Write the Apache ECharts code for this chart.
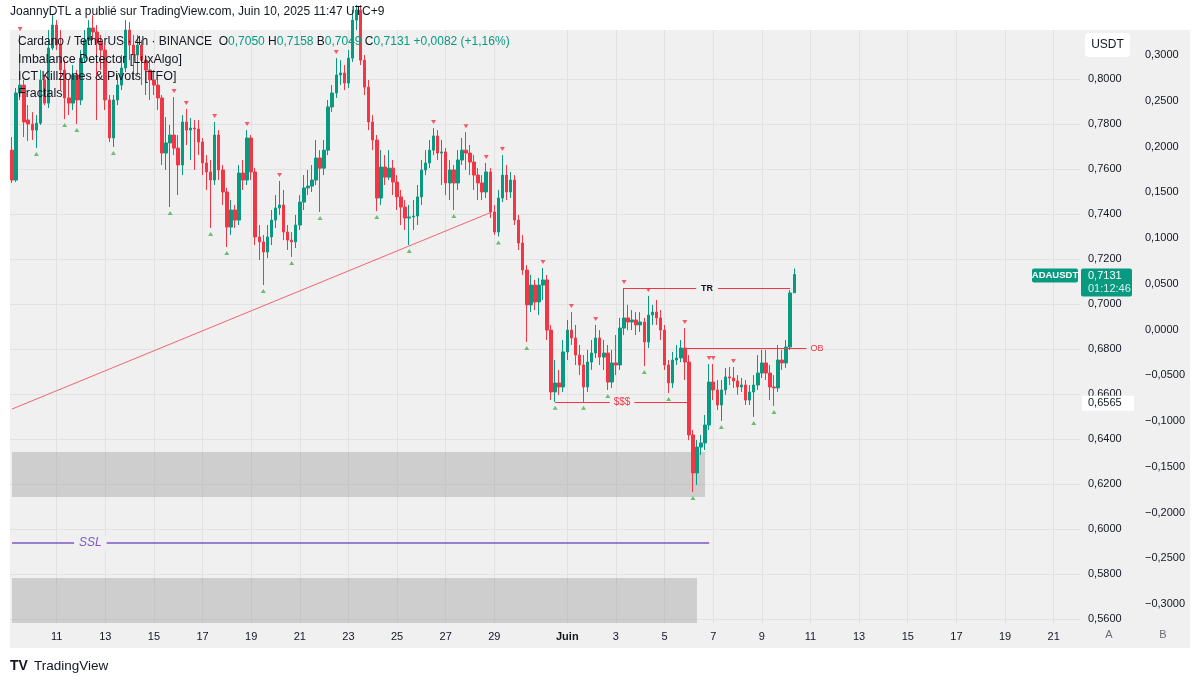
<!DOCTYPE html>
<html>
<head>
<meta charset="utf-8">
<title>ADAUSDT 4h</title>
<script src="https://cdn.jsdelivr.net/npm/echarts@6/dist/echarts.min.js"></script>
<style>
  html, body { margin: 0; padding: 0; background: #fff; }
  #main { width: 1200px; height: 684px; }
</style>
</head>
<body>
<div id="main"></div>
<script>
// 4h candles, [open, close, low, high], first bar = 9 May 05:00 (UTC+9)
var candles = [
  [0.7684,0.7551,0.7538,0.7742],[0.7551,0.7938,0.7542,0.7960],[0.7938,0.7973,0.7907,0.8196],[0.7973,0.7809,0.7742,0.7996],
  [0.7818,0.7800,0.7724,0.7884],[0.7800,0.7773,0.7729,0.7853],[0.7773,0.7804,0.7693,0.7840],[0.7804,0.7996,0.7796,0.8040],
  [0.7996,0.7893,0.7884,0.8018],[0.7893,0.8138,0.7871,0.8218],[0.8138,0.8240,0.8129,0.8284],[0.8240,0.8151,0.8129,0.8262],
  [0.8151,0.8040,0.7951,0.8218],[0.8040,0.7916,0.7822,0.8084],[0.7916,0.7893,0.7840,0.7996],[0.7893,0.8018,0.7862,0.8062],
  [0.8018,0.7907,0.7800,0.8040],[0.7907,0.8093,0.7884,0.8129],[0.8093,0.8173,0.8076,0.8218],[0.8173,0.8227,0.8151,0.8262],
  [0.8227,0.8209,0.8173,0.8284],[0.8209,0.8164,0.7818,0.8240],[0.8164,0.8129,0.8040,0.8196],[0.8129,0.7907,0.7862,0.8151],
  [0.7907,0.7738,0.7720,0.7929],[0.7738,0.7907,0.7698,0.7929],[0.7907,0.7973,0.7884,0.8018],[0.7973,0.8049,0.7951,0.8107],
  [0.8049,0.8218,0.8031,0.8262],[0.8218,0.8151,0.8084,0.8253],[0.8151,0.8107,0.7996,0.8196],[0.8107,0.8151,0.8018,0.8196],
  [0.8151,0.8084,0.7973,0.8173],[0.8084,0.8040,0.7929,0.8107],[0.8040,0.7996,0.7907,0.8084],[0.7996,0.7973,0.7929,0.8040],
  [0.7973,0.7916,0.7862,0.7996],[0.7916,0.7671,0.7618,0.7929],[0.7671,0.7716,0.7596,0.7831],[0.7716,0.7751,0.7431,0.7796],
  [0.7751,0.7693,0.7662,0.7920],[0.7693,0.7618,0.7484,0.7751],[0.7618,0.7809,0.7573,0.7840],[0.7809,0.7773,0.7707,0.7867],
  [0.7773,0.7782,0.7640,0.7827],[0.7782,0.7778,0.7596,0.7818],[0.7778,0.7720,0.7662,0.7818],[0.7720,0.7627,0.7573,0.7738],
  [0.7627,0.7587,0.7507,0.7662],[0.7587,0.7551,0.7338,0.7640],[0.7551,0.7751,0.7529,0.7809],[0.7751,0.7596,0.7551,0.7773],
  [0.7596,0.7498,0.7440,0.7618],[0.7498,0.7342,0.7253,0.7516],[0.7342,0.7418,0.7307,0.7462],[0.7418,0.7373,0.7338,0.7440],
  [0.7373,0.7582,0.7351,0.7618],[0.7582,0.7551,0.7507,0.7640],[0.7551,0.7738,0.7529,0.7773],[0.7738,0.7587,0.7551,0.7751],
  [0.7587,0.7298,0.7262,0.7604],[0.7298,0.7276,0.7196,0.7351],[0.7276,0.7231,0.7084,0.7307],[0.7231,0.7298,0.7204,0.7351],
  [0.7298,0.7373,0.7262,0.7418],[0.7373,0.7427,0.7338,0.7484],[0.7427,0.7440,0.7396,0.7547],[0.7440,0.7320,0.7284,0.7507],
  [0.7320,0.7284,0.7240,0.7351],[0.7284,0.7276,0.7209,0.7320],[0.7276,0.7351,0.7249,0.7396],[0.7351,0.7453,0.7329,0.7484],
  [0.7453,0.7516,0.7418,0.7573],[0.7516,0.7524,0.7484,0.7596],[0.7524,0.7551,0.7498,0.7618],[0.7551,0.7649,0.7529,0.7729],
  [0.7649,0.7604,0.7409,0.7684],[0.7604,0.7684,0.7573,0.7729],[0.7684,0.7876,0.7662,0.7907],[0.7876,0.7938,0.7853,0.7973],
  [0.7938,0.8018,0.7916,0.8093],[0.8018,0.8027,0.7973,0.8084],[0.8027,0.7982,0.7951,0.8062],[0.7982,0.8093,0.7960,0.8129],
  [0.8093,0.8262,0.8076,0.8307],[0.8262,0.8307,0.8218,0.8329],[0.8307,0.8084,0.8062,0.8329],[0.8084,0.7964,0.7929,0.8107],
  [0.7964,0.7809,0.7773,0.7996],[0.7809,0.7729,0.7684,0.7840],[0.7729,0.7471,0.7413,0.7751],[0.7471,0.7609,0.7440,0.7684],
  [0.7609,0.7564,0.7529,0.7662],[0.7564,0.7604,0.7551,0.7684],[0.7604,0.7542,0.7484,0.7640],[0.7542,0.7476,0.7418,0.7573],
  [0.7476,0.7431,0.7351,0.7507],[0.7431,0.7382,0.7329,0.7462],[0.7382,0.7387,0.7262,0.7440],[0.7387,0.7391,0.7329,0.7462],
  [0.7391,0.7476,0.7351,0.7529],[0.7476,0.7596,0.7440,0.7640],[0.7596,0.7627,0.7573,0.7684],[0.7627,0.7684,0.7604,0.7729],
  [0.7684,0.7747,0.7662,0.7782],[0.7747,0.7671,0.7640,0.7773],[0.7671,0.7676,0.7529,0.7729],[0.7676,0.7538,0.7484,0.7693],
  [0.7538,0.7596,0.7462,0.7640],[0.7596,0.7538,0.7418,0.7618],[0.7538,0.7640,0.7507,0.7684],[0.7640,0.7684,0.7618,0.7738],
  [0.7684,0.7671,0.7596,0.7764],[0.7671,0.7631,0.7573,0.7707],[0.7631,0.7573,0.7507,0.7662],[0.7573,0.7538,0.7462,0.7604],
  [0.7538,0.7498,0.7462,0.7573],[0.7498,0.7587,0.7471,0.7627],[0.7587,0.7409,0.7382,0.7604],[0.7409,0.7320,0.7307,0.7440],
  [0.7320,0.7471,0.7300,0.7507],[0.7471,0.7573,0.7453,0.7662],[0.7573,0.7498,0.7462,0.7618],[0.7498,0.7551,0.7471,0.7587],
  [0.7551,0.7373,0.7351,0.7573],[0.7373,0.7271,0.7240,0.7396],[0.7271,0.7151,0.7129,0.7307],[0.7151,0.6996,0.6831,0.7173],
  [0.6996,0.7084,0.6964,0.7129],[0.7084,0.7009,0.6973,0.7107],[0.7009,0.7084,0.6951,0.7116],[0.7084,0.7107,0.7018,0.7160],
  [0.7107,0.6884,0.6840,0.7129],[0.6884,0.6609,0.6573,0.6907],[0.6609,0.6649,0.6565,0.6751],[0.6649,0.6631,0.6596,0.6707],
  [0.6631,0.6787,0.6609,0.6840],[0.6787,0.6884,0.6751,0.6929],[0.6884,0.6849,0.6818,0.6964],[0.6849,0.6773,0.6729,0.6907],
  [0.6773,0.6729,0.6684,0.6818],[0.6729,0.6631,0.6565,0.6773],[0.6631,0.6742,0.6609,0.6796],[0.6742,0.6782,0.6707,0.6840],
  [0.6782,0.6849,0.6760,0.6907],[0.6849,0.6764,0.6729,0.6884],[0.6764,0.6782,0.6707,0.6840],[0.6782,0.6653,0.6618,0.6818],
  [0.6653,0.6738,0.6627,0.6796],[0.6738,0.6729,0.6684,0.6862],[0.6729,0.6893,0.6707,0.6938],[0.6893,0.6938,0.6862,0.7071],
  [0.6938,0.6920,0.6884,0.6996],[0.6920,0.6929,0.6884,0.6973],[0.6929,0.6907,0.6862,0.6964],[0.6907,0.6920,0.6876,0.6964],
  [0.6920,0.6831,0.6724,0.6938],[0.6831,0.6951,0.6804,0.7036],[0.6951,0.6964,0.6907,0.6996],[0.6964,0.6938,0.6907,0.7018],
  [0.6938,0.6884,0.6840,0.6973],[0.6884,0.6729,0.6707,0.6907],[0.6729,0.6649,0.6604,0.6751],[0.6649,0.6751,0.6627,0.6787],
  [0.6751,0.6760,0.6729,0.6818],[0.6760,0.6804,0.6742,0.6840],[0.6804,0.6742,0.6662,0.6893],[0.6742,0.6418,0.6395,0.6773],
  [0.6418,0.6249,0.6164,0.6440],[0.6249,0.6364,0.6196,0.6395],[0.6364,0.6382,0.6329,0.6418],[0.6382,0.6462,0.6351,0.6507],
  [0.6462,0.6653,0.6440,0.6733],[0.6653,0.6618,0.6573,0.6733],[0.6618,0.6551,0.6529,0.6662],[0.6551,0.6618,0.6480,0.6662],
  [0.6618,0.6676,0.6596,0.6716],[0.6676,0.6671,0.6640,0.6720],[0.6671,0.6658,0.6627,0.6720],[0.6658,0.6631,0.6596,0.6684],
  [0.6631,0.6640,0.6609,0.6671],[0.6640,0.6573,0.6551,0.6662],[0.6573,0.6609,0.6551,0.6640],[0.6609,0.6640,0.6498,0.6684],
  [0.6640,0.6693,0.6618,0.6773],[0.6693,0.6738,0.6671,0.6796],[0.6738,0.6693,0.6662,0.6796],[0.6693,0.6631,0.6573,0.6729],
  [0.6631,0.6627,0.6547,0.6684],[0.6627,0.6751,0.6609,0.6818],[0.6751,0.6738,0.6707,0.6796],[0.6738,0.6809,0.6716,0.6840],
  [0.6809,0.7049,0.6796,0.7062],[0.7050,0.7131,0.7049,0.7158]
];

var barCount = 264;                       // visible slots incl. empty future space
var tickIdx  = [11,23,35,47,59,71,83,95,107,119,137,149,161,173,185,197,209,221,233,245,257];
var tickText = ['11','13','15','17','19','21','23','25','27','29','Juin','3','5','7','9','11','13','15','17','19','21'];
var priceTicks = [0.80,0.78,0.76,0.74,0.72,0.70,0.68,0.66,0.64,0.62,0.60,0.58,0.56];
var pctTicks = [0.30,0.25,0.20,0.15,0.10,0.05,0,-0.05,-0.10,-0.15,-0.20,-0.25,-0.30];

// fractal bars
var fractalHigh = [2,40,43,50,58,66,80,104,112,117,121,131,138,144,151,157,166,172,173,178];
var fractalLow  = [6,13,16,25,39,49,53,62,69,76,90,98,109,120,127,134,141,147,156,162,168,175,183,188];

// drawings
var trendLine = [[0,0.6533],[118,0.7406]];
var levelTR  = {from:151, to:192, price:0.7071};
var levelOB  = {from:166, to:196, price:0.6804};
var levelSSS = {from:134, to:167, price:0.6565};
var levelSSL = {from:0,   to:172, price:0.5938};
var zone1 = {from:0, to:171, top:0.6342, bottom:0.6142};
var zone2 = {from:0, to:169, top:0.5782, bottom:0.5560};

var lastClose = 0.7131;
var markPrice = 0.6565;

var FONT = '"Liberation Sans", Arial, sans-serif';
var UP = '#089981', DOWN = '#f23645';

var categories = [];
for (var i = 0; i < barCount; i++) categories.push('b' + i);
var tickMap = {};
tickIdx.forEach(function (idx, k) { tickMap[idx] = tickText[k]; });

function comma(v) {
  var s = Math.abs(v).toFixed(4).replace('.', ',');
  return (v < -1e-9 ? '\u2212' : '') + s;
}

var chart = echarts.init(document.getElementById('main'));

var option = {
  animation: false,
  backgroundColor: '#ffffff',
  textStyle: { fontFamily: FONT },
  grid: { left: 10, right: 120, top: 30, bottom: 61, outerBoundsMode: 'none' },
  xAxis: {
    type: 'category',
    data: categories,
    boundaryGap: true,
    axisLine: { show: false },
    axisTick: { show: false },
    splitLine: { show: false },
    axisLabel: {
      interval: function (idx) { return tickMap[idx] !== undefined; },
      formatter: function (v, idx) {
        var t = tickMap[idx];
        if (t === undefined) return '';
        return t === 'Juin' ? '{b|Juin}' : t;
      },
      color: '#131722', fontSize: 11, margin: 8,
      rich: { b: { fontWeight: 'bold', fontSize: 11, color: '#131722' } }
    }
  },
  yAxis: [
    {
      type: 'value', position: 'right', min: 0.5582, max: 0.8218,
      axisLine: { show: false }, axisTick: { show: false }, splitLine: { show: false },
      axisLabel: { customValues: priceTicks, formatter: comma, color: '#131722', fontSize: 11, margin: 8 }
    },
    {
      type: 'value', position: 'right', offset: 57, min: -0.3208, max: 0.3273,
      axisLine: { show: false }, axisTick: { show: false }, splitLine: { show: false },
      axisLabel: { customValues: pctTicks, formatter: comma, color: '#131722', fontSize: 11, margin: 8 }
    }
  ],
  series: [
    {
      name: 'grid', type: 'line', data: [], silent: true,
      markLine: {
        z: 0, silent: true, symbol: 'none', animation: false,
        label: { show: false },
        lineStyle: { color: '#e2e2e2', width: 1, type: 'solid' },
        data: priceTicks.map(function (v) { return { yAxis: v }; })
          .concat(tickIdx.map(function (i) { return { xAxis: i }; }))
      },
      markArea: {
        z: 1, silent: true,
        itemStyle: { color: 'rgba(150,150,150,0.38)' },
        data: [
          [{ coord: [zone1.from, zone1.top] }, { coord: [zone1.to, zone1.bottom] }],
          [{ coord: [zone2.from, zone2.top] }, { coord: [zone2.to, zone2.bottom] }]
        ]
      }
    },
    {
      name: 'ADAUSDT', type: 'candlestick', z: 2,
      data: candles, barWidth: 3,
      itemStyle: { color: UP, color0: DOWN, borderColor: UP, borderColor0: DOWN, borderWidth: 1 }
    },
    {
      name: 'trend', type: 'line', z: 3, data: trendLine, showSymbol: false, silent: true,
      lineStyle: { color: '#f06570', width: 1 },
      markLine: {
        z: 3, silent: true, symbol: 'none', animation: false,
        data: [
          [{ coord: [levelTR.from, levelTR.price], lineStyle: { color: DOWN, width: 1, type: 'solid' },
             label: { show: true, position: 'insideMiddle', formatter: 'TR', color: '#131722', fontWeight: 'bold',
                      fontSize: 9, backgroundColor: '#f0f0f0', padding: [1, 5] } },
           { coord: [levelTR.to, levelTR.price] }],
          [{ coord: [levelOB.from, levelOB.price], lineStyle: { color: DOWN, width: 1, type: 'solid' },
             label: { show: true, position: 'end', distance: 4, formatter: 'OB', color: DOWN, fontSize: 9 } },
           { coord: [levelOB.to, levelOB.price] }],
          [{ coord: [levelSSS.from, levelSSS.price], lineStyle: { color: DOWN, width: 1, type: 'solid' },
             label: { show: true, position: 'insideMiddle', formatter: '$$$', color: DOWN, fontSize: 10,
                      backgroundColor: '#f0f0f0', padding: [1, 4] } },
           { coord: [levelSSS.to, levelSSS.price] }],
          [{ coord: [levelSSL.from, levelSSL.price], lineStyle: { color: '#7e57c2', width: 1.5, type: 'solid' },
             label: { show: true, position: 'insideStart', distance: [62, 0], formatter: 'SSL', color: '#7e57c2',
                      fontSize: 12, fontStyle: 'italic', backgroundColor: '#f0f0f0', padding: [1, 5] } },
           { coord: [levelSSL.to, levelSSL.price] }]
        ]
      }
    },
    {
      name: 'fractalHigh', type: 'scatter', z: 4, silent: true,
      symbol: 'triangle', symbolSize: [5, 4], symbolRotate: 180, symbolOffset: [0, -6],
      itemStyle: { color: DOWN },
      data: fractalHigh.map(function (i) { return [i, candles[i][3]]; })
    },
    {
      name: 'fractalLow', type: 'scatter', z: 4, silent: true,
      symbol: 'triangle', symbolSize: [5, 4], symbolOffset: [0, 6],
      itemStyle: { color: '#4caf50' },
      data: fractalLow.map(function (i) { return [i, candles[i][2]]; })
    }
  ]
};

chart.setOption(option);

var yLast = chart.convertToPixel({ yAxisIndex: 0 }, lastClose);
var yMark = chart.convertToPixel({ yAxisIndex: 0 }, markPrice);

chart.setOption({
  graphic: [
    { type: 'rect', z: -100, silent: true, shape: { x: 10, y: 30, width: 1180, height: 618 }, style: { fill: '#f0f0f0' } },
    { type: 'text', z: 100, left: 10, top: 6, style: { text: 'JoannyDTL a publié sur TradingView.com, Juin 10, 2025 11:47 UTC+9',
      fill: '#131722', font: '12px ' + FONT } },
    { type: 'text', z: 100, x: 18, y: 36, style: {
      text: '{n|Cardano / TetherUS · 4h · BINANCE}  {n|O}{v|0,7050} {n|H}{v|0,7158} {n|B}{v|0,7049} {n|C}{v|0,7131} {v|+0,0082 (+1,16%)}',
      rich: { n: { fill: '#131722', fontSize: 12, fontFamily: FONT }, v: { fill: UP, fontSize: 12, fontFamily: FONT } } } },
    { type: 'text', z: 100, x: 18, y: 53, style: { text: 'Imbalance Detector [LuxAlgo]', fill: '#131722', font: '12.5px ' + FONT } },
    { type: 'text', z: 100, x: 18, y: 70, style: { text: 'ICT Killzones & Pivots [TFO]', fill: '#131722', font: '12.5px ' + FONT } },
    { type: 'text', z: 100, x: 18, y: 87, style: { text: 'Fractals', fill: '#131722', font: '12.5px ' + FONT } },

    { type: 'rect', z: 100, shape: { x: 1085, y: 33, width: 45, height: 24, r: 4 }, style: { fill: '#ffffff' } },
    { type: 'text', z: 101, x: 1107.5, y: 45, style: { text: 'USDT', fill: '#131722', font: '12px ' + FONT, align: 'center', verticalAlign: 'middle' } },

    { type: 'rect', z: 100, shape: { x: 1032, y: yLast - 6, width: 46, height: 14, r: 2 }, style: { fill: UP } },
    { type: 'text', z: 101, x: 1055, y: yLast + 1, style: { text: 'ADAUSDT', fill: '#ffffff', font: 'bold 9.5px ' + FONT, align: 'center', verticalAlign: 'middle' } },
    { type: 'rect', z: 100, shape: { x: 1081, y: yLast - 6, width: 51, height: 28, r: 2 }, style: { fill: UP } },
    { type: 'text', z: 101, x: 1088, y: yLast + 1, style: { text: comma(lastClose), fill: '#ffffff', font: '11px ' + FONT, verticalAlign: 'middle' } },
    { type: 'text', z: 101, x: 1088, y: yLast + 14, style: { text: '01:12:46', fill: '#d8f2ec', font: '11px ' + FONT, verticalAlign: 'middle' } },

    { type: 'rect', z: 100, shape: { x: 1082, y: yMark - 6, width: 52, height: 15 }, style: { fill: '#ffffff' } },
    { type: 'text', z: 101, x: 1088, y: yMark + 1.5, style: { text: comma(markPrice), fill: '#131722', font: '11px ' + FONT, verticalAlign: 'middle' } },

    { type: 'text', z: 100, x: 1109, y: 635, style: { text: 'A', fill: '#6a6d78', font: '11px ' + FONT, align: 'center', verticalAlign: 'middle' } },
    { type: 'text', z: 100, x: 1163, y: 635, style: { text: 'B', fill: '#6a6d78', font: '11px ' + FONT, align: 'center', verticalAlign: 'middle' } },

    { type: 'text', z: 100, x: 10, y: 666, style: { text: 'TV', fill: '#131722', font: '900 14px ' + FONT, verticalAlign: 'middle' } },
    { type: 'text', z: 100, x: 34, y: 666, style: { text: 'TradingView', fill: '#131722', font: '13.5px ' + FONT, verticalAlign: 'middle' } }
  ]
});
</script>
</body>
</html>
